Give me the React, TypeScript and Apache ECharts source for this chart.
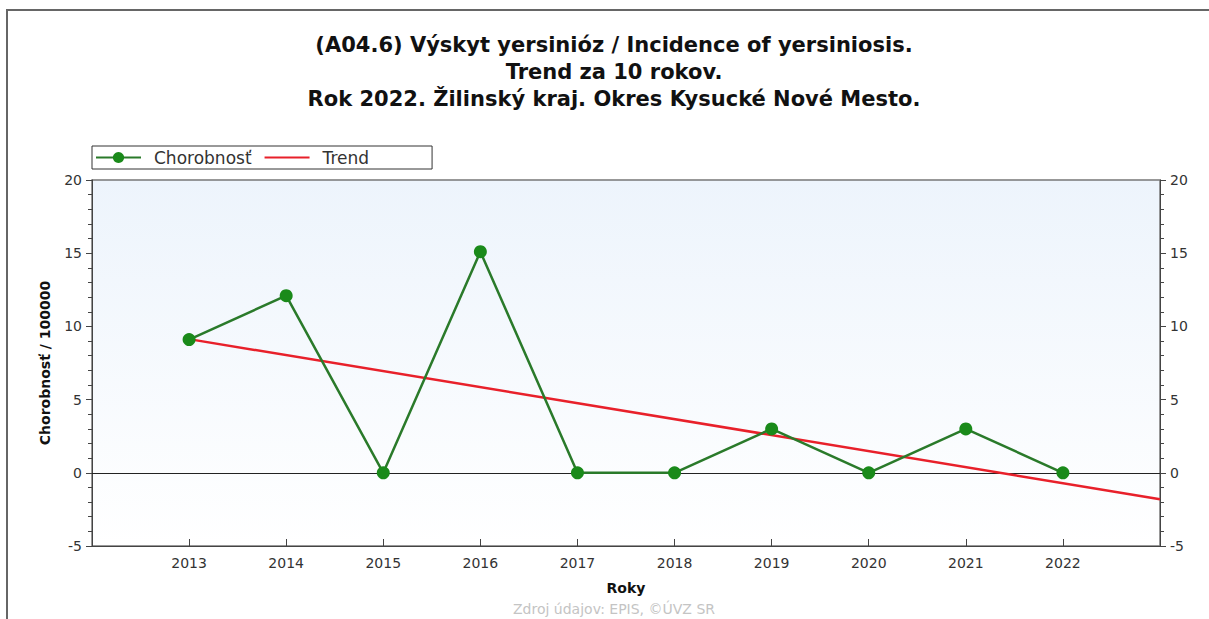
import React, { useEffect, useRef } from "react";
import * as echarts from "echarts";

const years = [2013, 2014, 2015, 2016, 2017, 2018, 2019, 2020, 2021, 2022];
const incidence = [9.1, 12.1, 0, 15.1, 0, 0, 3.0, 0, 3.0, 0];
const trendYears = [2013, 2023];
const trendValues = [9.13, -1.8];
const titleLines = [
  "(A04.6) Výskyt yersinióz / Incidence of yersiniosis.",
  "Trend za 10 rokov.",
  "Rok 2022. Žilinský kraj. Okres Kysucké Nové Mesto.",
];
const footer = "Zdroj údajov: EPIS, ©ÚVZ SR";

const FONT = "DejaVu Sans";

export default function App() {
  const ref = useRef<HTMLDivElement>(null);
  useEffect(() => {
    if (!ref.current) return;
    const chart = echarts.init(ref.current, undefined, { renderer: "svg" });
    const yAxisCommon = {
      type: "value",
      min: -5,
      max: 20,
      interval: 5,
      axisLine: { show: true, lineStyle: { color: "#444", width: 1 } },
      axisTick: { show: true, length: 6, lineStyle: { color: "#444" } },
      minorTick: { show: true, splitNumber: 5, length: 4, lineStyle: { color: "#444" } },
      splitLine: { show: false },
      axisLabel: { fontFamily: FONT, fontSize: 14, color: "#333" },
    };
    chart.setOption({
      animation: false,
      backgroundColor: "#fff",
      title: {
        text: titleLines.join("\n"),
        left: 614,
        textAlign: "center",
        top: 31,
        padding: 0,
        textStyle: {
          fontFamily: FONT,
          fontSize: 21,
          fontWeight: "bold",
          color: "#111",
          lineHeight: 27,
        },
      },
      legend: {
        left: 92,
        top: 146,
        orient: "horizontal",
        padding: [3, 63, 3, 3],
        borderColor: "#333",
        borderWidth: 1,
        itemWidth: 45,
        itemHeight: 14,
        itemGap: 12,
        textStyle: { fontFamily: FONT, fontSize: 17, color: "#333", padding: [0, 0, 0, 8] },
        data: [
          { name: "Chorobnosť" },
          { name: "Trend", itemStyle: { opacity: 0 } },
        ],
      },
      grid: {
        left: 92,
        right: 49,
        top: 180,
        bottom: 73,
        show: true,
        borderColor: "#777",
        borderWidth: 1.5,
        backgroundColor: {
          type: "linear",
          x: 0,
          y: 0,
          x2: 0,
          y2: 1,
          colorStops: [
            { offset: 0, color: "#edf4fc" },
            { offset: 1, color: "#ffffff" },
          ],
        },
      },
      xAxis: {
        type: "value",
        min: 2012,
        max: 2023,
        interval: 1,
        name: "Roky",
        nameLocation: "middle",
        nameGap: 35,
        nameTextStyle: { fontFamily: FONT, fontSize: 14, fontWeight: "bold", color: "#111" },
        axisLine: { show: true, onZero: false, lineStyle: { color: "#444" } },
        axisTick: { show: true, inside: true, length: 7, lineStyle: { color: "#444" } },
        splitLine: { show: false },
        axisLabel: {
          fontFamily: FONT,
          fontSize: 14,
          color: "#333",
          margin: 10,
          formatter: (v: number) => (years.includes(v) ? String(v) : ""),
        },
      },
      yAxis: [
        {
          ...yAxisCommon,
          position: "left",
          name: "Chorobnosť / 100000",
          nameLocation: "middle",
          nameGap: 40,
          nameTextStyle: { fontFamily: FONT, fontSize: 14, fontWeight: "bold", color: "#111" },
          axisLabel: { ...yAxisCommon.axisLabel, margin: 10 },
        },
        {
          ...yAxisCommon,
          position: "right",
          axisLabel: { ...yAxisCommon.axisLabel, margin: 10 },
        },
      ],
      series: [
        {
          name: "Trend",
          type: "line",
          data: trendYears.map((y, i) => [y, trendValues[i]]),
          symbol: "none",
          lineStyle: { color: "#e8202a", width: 2.5 },
          itemStyle: { color: "#e8202a" },
          z: 3,
        },
        {
          name: "Chorobnosť",
          type: "line",
          data: years.map((y, i) => [y, incidence[i]]),
          symbol: "circle",
          symbolSize: 13,
          lineStyle: { color: "#2a7a2a", width: 2.5 },
          itemStyle: { color: "#1a8a1a" },
          z: 4,
          markLine: {
            silent: true,
            symbol: "none",
            label: { show: false },
            lineStyle: { color: "#222", width: 1, type: "solid" },
            data: [{ yAxis: 0 }],
            z: 2,
          },
        },
      ],
      graphic: [
        {
          type: "polyline",
          shape: { points: [[7, 619], [7, 10], [1209, 10]] },
          style: { stroke: "#666", lineWidth: 2, fill: "none" },
          silent: true,
        },
        {
          type: "text",
          x: 614,
          y: 609,
          style: {
            text: footer,
            fontFamily: FONT,
            fontSize: 14,
            fill: "#c4c4c4",
            align: "center",
            verticalAlign: "middle",
          },
        },
      ],
    });
    return () => chart.dispose();
  }, []);
  return (
    <div
      ref={ref}
      style={{ position: "absolute", left: 0, top: 0, width: 1209, height: 619 }}
    />
  );
}
